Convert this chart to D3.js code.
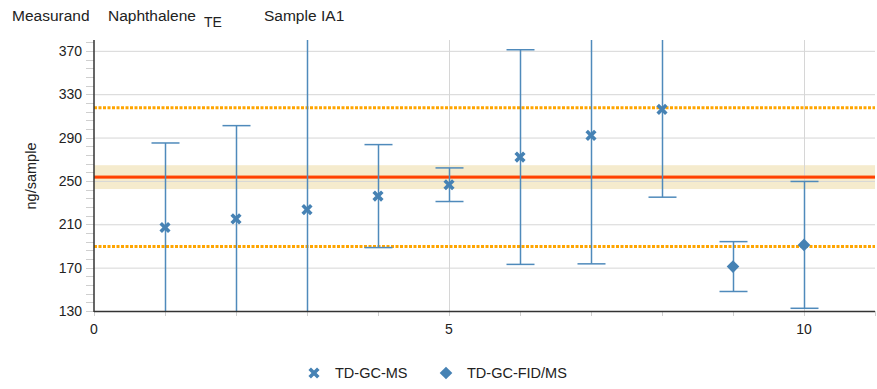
<!DOCTYPE html>
<html>
<head>
<meta charset="utf-8">
<script src="https://cdn.jsdelivr.net/npm/d3@7"></script>
<style>
  html, body { margin: 0; padding: 0; background: #fff; }
  svg text { font-family: "Liberation Sans", Arial, sans-serif; fill: #222; }
</style>
</head>
<body>
<svg id="chart" width="877" height="389"></svg>
<script>
// Laboratory results (ng/sample) with expanded uncertainties
const gcmsLabs = [1, 2, 3, 4, 5, 6, 7, 8];
const gcmsValues = [207, 215, 223.5, 236, 246.5, 272, 292, 316];
const gcmsUncert = [78, 86, 160, 47.5, 15.5, 99, 118.5, 81];

const fidLabs = [9, 10];
const fidValues = [171, 191];
const fidUncert = [23, 58.5];

// Assigned value, its uncertainty band and the tolerance limits
const assignedValue = 253.5;
const assignedUncert = 11;
const toleranceLimits = [189.5, 317.5];

const yMajorTicks = [130, 170, 210, 250, 290, 330, 370];
const xLabelTicks = [0, 5, 10];
const seriesNames = ["TD-GC-MS", "TD-GC-FID/MS"];

const blue = "#4682b4";
const svg = d3.select("#chart");
const plotLeft = 94, plotRight = 875, plotTop = 40, plotBottom = 311;

const x = d3.scaleLinear().domain([0, 11]).range([plotLeft, plotRight]);
const y = d3.scaleLinear().domain([130, 380]).range([plotBottom, plotTop]);

svg.append("defs").append("clipPath").attr("id", "plotClip")
  .append("rect").attr("x", plotLeft).attr("y", plotTop)
  .attr("width", plotRight - plotLeft).attr("height", plotBottom - plotTop);

// uncertainty band of the assigned value
svg.append("rect")
  .attr("x", plotLeft).attr("width", plotRight - plotLeft)
  .attr("y", y(assignedValue + assignedUncert))
  .attr("height", y(assignedValue - assignedUncert) - y(assignedValue + assignedUncert))
  .attr("fill", "#f5ebcd");

// grid
const grid = svg.append("g").attr("stroke", "#d6d6d6").attr("stroke-width", 1);
grid.selectAll("line.h").data(yMajorTicks.slice(1)).join("line")
  .attr("x1", plotLeft).attr("x2", plotRight)
  .attr("y1", d => y(d) + 0.5).attr("y2", d => y(d) + 0.5);
grid.selectAll("line.v").data([5, 10]).join("line")
  .attr("y1", plotTop).attr("y2", plotBottom)
  .attr("x1", d => x(d) + 0.5).attr("x2", d => x(d) + 0.5);

// assigned value
svg.append("line")
  .attr("x1", plotLeft).attr("x2", plotRight)
  .attr("y1", y(assignedValue)).attr("y2", y(assignedValue))
  .attr("stroke", "#ff5a1a").attr("stroke-width", 3.2);
svg.append("line")
  .attr("x1", plotLeft).attr("x2", plotRight)
  .attr("y1", y(assignedValue)).attr("y2", y(assignedValue))
  .attr("stroke", "#ff3f00").attr("stroke-width", 1.6);

// tolerance limits
svg.selectAll("line.limit").data(toleranceLimits).join("line")
  .attr("x1", plotLeft).attr("x2", plotRight)
  .attr("y1", d => y(d)).attr("y2", d => y(d))
  .attr("stroke", "#ffa500").attr("stroke-width", 3)
  .attr("stroke-dasharray", "3,1.5");

// error bars
const bars = [];
gcmsLabs.forEach((lab, i) => bars.push({ lab, v: gcmsValues[i], u: gcmsUncert[i] }));
fidLabs.forEach((lab, i) => bars.push({ lab, v: fidValues[i], u: fidUncert[i] }));

const eb = svg.append("g").attr("clip-path", "url(#plotClip)")
  .attr("stroke", "#4f8abb").attr("stroke-width", 1.5).attr("fill", "none");
bars.forEach(d => {
  const cx = Math.round(x(d.lab)) + 0.5;
  eb.append("line").attr("x1", cx).attr("x2", cx)
    .attr("y1", y(d.v - d.u)).attr("y2", y(d.v + d.u));
  [d.v - d.u, d.v + d.u].forEach(e => {
    eb.append("line").attr("x1", cx - 14).attr("x2", cx + 14)
      .attr("y1", y(e)).attr("y2", y(e));
  });
});

// markers
const crossPath = "M-4.3,-4.3L4.3,4.3M-4.3,4.3L4.3,-4.3";
const diamond = d3.symbol().type(d3.symbolSquare).size(80);

svg.append("g").selectAll("path").data(gcmsLabs).join("path")
  .attr("transform", (d, i) => `translate(${x(d)},${y(gcmsValues[i])})`)
  .attr("d", crossPath)
  .attr("stroke", blue).attr("stroke-width", 3.6).attr("fill", "none");

svg.append("g").selectAll("path").data(fidLabs).join("path")
  .attr("transform", (d, i) => `translate(${x(d)},${y(fidValues[i])}) rotate(45)`)
  .attr("d", diamond)
  .attr("fill", blue);

// axes
const yMinor = d3.range(130, 380, 8);
svg.append("g").attr("stroke", "#cfcfcf").attr("stroke-width", 1)
  .selectAll("line").data(yMinor).join("line")
  .attr("x1", plotLeft - 8).attr("x2", plotLeft)
  .attr("y1", d => Math.round(y(d)) + 0.5).attr("y2", d => Math.round(y(d)) + 0.5);

svg.append("g").attr("stroke", "#cfcfcf").attr("stroke-width", 1)
  .selectAll("line").data(d3.range(0, 12)).join("line")
  .attr("x1", d => Math.round(x(d)) + 0.5).attr("x2", d => Math.round(x(d)) + 0.5)
  .attr("y1", plotBottom).attr("y2", plotBottom + 5);

svg.append("line").attr("x1", plotLeft).attr("x2", plotLeft)
  .attr("y1", plotTop).attr("y2", plotBottom + 1)
  .attr("stroke", "#333").attr("stroke-width", 1.5);
svg.append("line").attr("x1", plotLeft).attr("x2", plotRight)
  .attr("y1", plotBottom + 0.5).attr("y2", plotBottom + 0.5)
  .attr("stroke", "#333").attr("stroke-width", 1.6);

svg.append("g").selectAll("text").data(yMajorTicks).join("text")
  .attr("x", 82).attr("y", d => y(d) + 5)
  .attr("text-anchor", "end").attr("font-size", 14)
  .text(d => d);

svg.append("g").selectAll("text").data(xLabelTicks).join("text")
  .attr("x", d => x(d)).attr("y", plotBottom + 23)
  .attr("text-anchor", "middle").attr("font-size", 14)
  .text(d => d);

svg.append("text")
  .attr("transform", `translate(36,176) rotate(-90)`)
  .attr("text-anchor", "middle").attr("font-size", 14.5)
  .text("ng/sample");

// title
const title = svg.append("g");
title.append("text").attr("x", 12).attr("y", 21).attr("font-size", 15.5).text("Measurand");
title.append("text").attr("x", 108).attr("y", 21).attr("font-size", 15.5).text("Naphthalene");
title.append("text").attr("x", 204).attr("y", 27).attr("font-size", 14).text("TE");
title.append("text").attr("x", 264).attr("y", 21).attr("font-size", 15.5).text("Sample");
title.append("text").attr("x", 321).attr("y", 21).attr("font-size", 15.5).text("IA1");

// legend
const legend = svg.append("g");
legend.append("path").attr("d", crossPath)
  .attr("transform", "translate(314,373)")
  .attr("stroke", blue).attr("stroke-width", 3.6).attr("fill", "none");
legend.append("text").attr("x", 335).attr("y", 378).attr("font-size", 14.5).text(seriesNames[0]);
legend.append("path").attr("d", diamond)
  .attr("transform", "translate(446,373) rotate(45)")
  .attr("fill", blue);
legend.append("text").attr("x", 467).attr("y", 378).attr("font-size", 14.5).text(seriesNames[1]);
</script>
</body>
</html>
